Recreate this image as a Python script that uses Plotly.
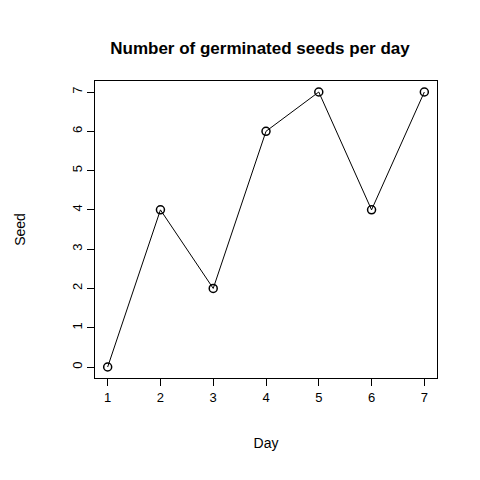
import plotly.graph_objects as go

days = [1, 2, 3, 4, 5, 6, 7]
seeds = [0, 4, 2, 6, 7, 4, 7]

fig = go.Figure()
fig.add_trace(go.Scatter(
    x=days, y=seeds, mode="lines+markers",
    line=dict(color="black", width=1),
    marker=dict(symbol="circle-open", size=8, color="black", line=dict(width=1.5)),
))

axis_style = dict(
    showgrid=False, zeroline=False, showline=True, mirror=True,
    linecolor="black", linewidth=1, ticks="outside", ticklen=7,
    tickcolor="black", tickfont=dict(family="Liberation Sans", size=13, color="black"),
)
fig.update_xaxes(range=[0.76, 7.24], tickvals=days, **axis_style,
                 title=dict(text="Day", font=dict(family="Liberation Sans", size=14, color="black"), standoff=34))
fig.update_yaxes(range=[-0.28, 7.28], tickvals=list(range(8)), tickangle=-90, **axis_style,
                 title=dict(text="Seed", font=dict(family="Liberation Sans", size=14, color="black"), standoff=40))
fig.update_layout(
    width=480, height=480,
    margin=dict(l=73, r=51, t=73, b=110),
    paper_bgcolor="white", plot_bgcolor="white",
    showlegend=False,
    title=dict(text="<b>Number of germinated seeds per day</b>", x=0.525, xanchor="center", y=0.93,
               font=dict(family="Liberation Sans", size=17, color="black")),
)
fig.write_html("out.html")
